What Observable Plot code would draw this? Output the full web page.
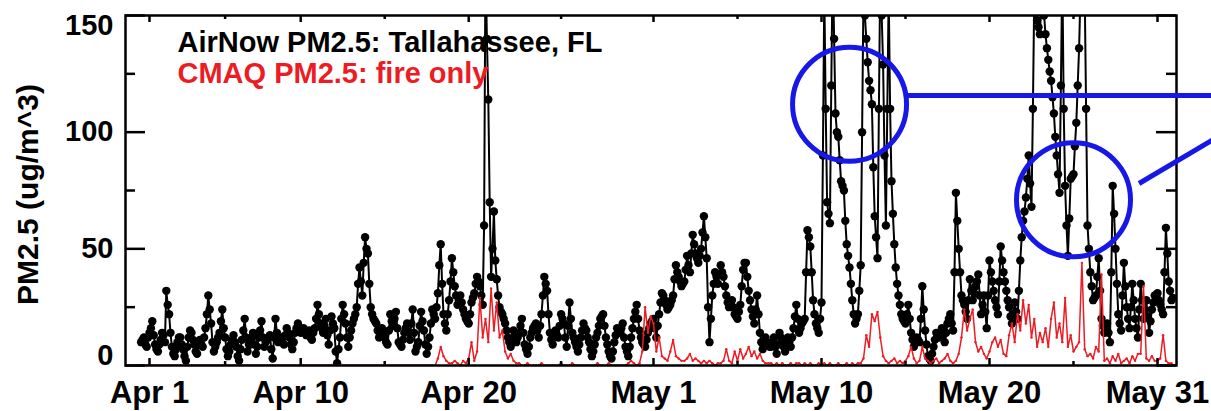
<!DOCTYPE html>
<html>
<head>
<meta charset="utf-8">
<script src="https://cdn.jsdelivr.net/npm/d3@7"></script>
<script src="https://cdn.jsdelivr.net/npm/@observablehq/plot@0.6"></script>
<style>
  html, body { margin: 0; padding: 0; background: #fff; }
  #chart svg { display: block; }
</style>
</head>
<body>
<div id="chart"></div>
<script>
// ---- tick labels (x = days since Apr 1, 00:00) ----
const xTicks = [0, 9, 19, 30, 40, 50, 60];
const xLabels = ["Apr 1", "Apr 10", "Apr 20", "May 1", "May 10", "May 20", "May 31"];
const xMinorTicks = [4.5, 14, 24.5, 35, 45, 55];
const yMajorTicks = [0, 50, 100, 150];
const yMinorTicks = [25, 75, 125];

const seriesStartDay = -0.5;     // first sample: Mar 31, 12:00
const airnowPerDay = 12;         // AirNow: one value every 2 hours
const cmaqPerDay = 6;            // CMAQ: one value every 4 hours

// ---- AirNow PM2.5, Tallahassee (ug/m^3) ----
const airnowApril = [
  10, 11, 12, 9, 8, 12,
  14, 16, 19, 13, 9, 7, 6, 9, 11, 14, 13, 10,
  32, 26, 22, 14, 8, 5, 4, 7, 10, 12, 12, 9,
  7, 4, 2, 8, 12, 15, 14, 11, 9, 6, 5, 9,
  11, 9, 8, 12, 16, 22, 30, 24, 18, 10, 6, 8,
  10, 12, 14, 19, 24, 16, 12, 7, 4, 6, 9, 11,
  13, 10, 8, 4, 2, 7, 11, 15, 20, 12, 6, 9,
  9, 12, 14, 9, 5, 8, 12, 15, 19, 12, 8, 10,
  11, 12, 13, 7, 3, 12, 20, 14, 10, 11, 12, 10,
  9, 13, 16, 14, 12, 9, 7, 10, 14, 16, 18, 15,
  14, 15, 16, 14, 13, 14, 15, 12, 11, 14, 16, 20,
  26, 22, 18, 16, 14, 17, 20, 13, 9, 15, 21, 18,
  16, 6, 1, 7, 12, 20, 26, 22, 18, 12, 8, 12,
  15, 18, 20, 22, 25, 35, 42, 36, 30, 44, 55, 50,
  48, 35, 25, 22, 20, 19, 18, 15, 12, 14, 16, 14,
  12, 10, 9, 15, 22, 19, 17, 20, 23, 16, 10, 9,
  8, 11, 14, 16, 18, 14, 11, 18, 24, 14, 6, 8,
  10, 17, 23, 19, 15, 9, 5, 8, 12, 18, 24, 22,
  20, 25, 31, 43, 52, 35, 22, 18, 15, 22, 28, 36,
  46, 40, 34, 30, 26, 28, 30, 27, 24, 22, 20, 19,
  18, 22, 27, 29, 31, 35, 38, 36, 34, 30, 26, 60,
  175, 140, 114, 70, 38, 50, 66, 45, 37, 30, 25, 23,
  22, 20, 18, 15, 12, 10, 8, 11, 15, 13, 10, 12,
  14, 17, 20, 14, 9, 7, 5, 8, 12, 14, 16, 17,
  18, 15, 12, 17, 22, 30, 38, 35, 32, 22, 14, 11,
  9, 12, 15, 13, 12, 17, 22, 20, 18, 12, 8, 17,
  27, 20, 14, 12, 10, 8, 6, 9, 12, 15, 18, 16,
  15, 12, 10, 7, 4, 6, 9, 12, 14, 17, 20, 21,
  22, 17, 12, 9, 6, 4, 3, 6, 10, 13, 16, 15,
  14, 16, 18, 12, 8, 6, 4, 8, 12, 16, 20, 23,
  26, 20, 15, 12, 10, 9, 8, 11, 14, 16, 18, 19
];
const airnowMay = [
  20, 16, 12, 17, 22, 27, 31, 30, 28, 26, 24, 25,
  26, 28, 30, 37, 43, 40, 38, 36, 34, 35, 36, 41,
  47, 43, 40, 48, 56, 52, 48, 46, 44, 47, 50, 57,
  64, 55, 46, 25, 10, 20, 30, 35, 40, 38, 35, 39,
  43, 40, 38, 34, 30, 27, 25, 26, 28, 25, 22, 21,
  20, 23, 26, 34, 41, 44, 44, 38, 32, 28, 24, 21,
  18, 24, 30, 22, 14, 10, 7, 10, 12, 10, 9, 8,
  8, 10, 12, 8, 5, 9, 14, 12, 10, 8, 6, 9,
  12, 10, 8, 12, 16, 21, 26, 20, 14, 16, 18, 19,
  20, 40, 58, 55, 51, 40, 28, 22, 18, 16, 14, 20,
  27, 90, 160, 110, 70, 65, 61, 120, 175, 140, 108, 100,
  98, 88, 79, 77, 75, 62, 52, 47, 42, 35, 28, 22,
  18, 20, 22, 32, 43, 100, 160, 150, 140, 130, 122, 118,
  112, 85, 64, 55, 46, 110, 170, 150, 129, 90, 60, 110,
  160, 110, 79, 65, 52, 42, 35, 30, 26, 22, 20, 19,
  18, 22, 26, 20, 14, 11, 8, 10, 12, 11, 10, 20,
  34, 24, 15, 9, 4, 3, 2, 5, 8, 11, 14, 13,
  12, 14, 16, 13, 10, 14, 18, 20, 22, 18, 15, 40,
  74, 62, 50, 40, 30, 28, 26, 23, 20, 28, 37, 32,
  28, 31, 34, 36, 39, 30, 22, 26, 30, 23, 16, 30,
  45, 40, 36, 32, 28, 25, 22, 36, 51, 45, 40, 36,
  32, 28, 25, 21, 18, 22, 27, 23, 20, 32, 45, 55,
  62, 66, 72, 80, 90, 78, 68, 110, 160, 155, 148, 145,
  142, 155, 165, 150, 142, 136, 131, 126, 122, 115, 108, 98,
  90, 82, 74, 120, 170, 110, 77, 60, 47, 63, 80, 81,
  82, 94, 104, 120, 136, 160, 175, 168, 160, 110, 60, 50,
  40, 34, 28, 29, 30, 38, 46, 32, 20, 17, 14, 16,
  18, 14, 10, 40, 77, 65, 50, 35, 22, 18, 15, 30,
  44, 34, 25, 20, 16, 25, 35, 28, 20, 16, 12, 24,
  35, 28, 20, 24, 28, 21, 14, 19, 24, 27, 30, 30,
  31, 28, 26, 24, 22, 40, 59, 48, 36, 32, 28, 29
];

// ---- CMAQ PM2.5, fire only (ug/m^3) ----
const cmaqApril = [
  0, 0, 0,
  0, 0, 0, 0, 0, 0,
  0, 0, 0, 0, 0, 0,
  0, 0, 0, 0, 0, 0,
  0, 0, 0, 0, 0, 0,
  0, 0, 0, 0, 0, 0,
  0, 0, 0, 0, 0, 0,
  0, 0, 0, 0, 0, 0,
  0, 0, 0, 0, 0, 0,
  0, 0, 0, 0, 0, 0,
  0, 0, 0, 0, 0, 0,
  0, 0, 0, 0, 0, 0,
  0, 0, 0, 0, 0, 0,
  0, 0, 0, 0, 0, 0,
  0, 0, 0, 0, 0, 0,
  0, 0, 0, 0, 0, 0,
  0, 0, 0, 0, 0, 0,
  0, 0, 0, 0, 0, 0,
  0, 3, 8, 4, 2, 1,
  1, 2, 1, 0, 2, 1,
  3, 10, 2, 6, 29, 12,
  20, 10, 33, 15, 27, 12,
  15, 6, 3, 5, 2, 1,
  1, 0, 0, 1, 0, 0,
  0, 0, 1, 0, 0, 0,
  0, 0, 0, 1, 0, 0,
  0, 1, 0, 0, 0, 0,
  0, 0, 0, 0, 1, 0,
  0, 0, 1, 0, 0, 0,
  0, 0, 0, 1, 2, 1,
  0, 1, 6, 25, 14, 21
];
const cmaqMay = [
  18, 6, 12, 4, 3, 2,
  6, 11, 4, 3, 2, 2,
  3, 5, 2, 3, 2, 1,
  2, 1, 2, 1, 0, 1,
  1, 2, 7, 2, 1, 6,
  2, 7, 3, 5, 8, 4,
  6, 3, 5, 2, 1, 1,
  1, 0, 1, 0, 1, 0,
  0, 1, 0, 1, 1, 0,
  1, 0, 1, 0, 0, 1,
  0, 1, 0, 1, 0, 0,
  1, 0, 0, 1, 0, 1,
  0, 1, 1, 3, 13, 8,
  22, 19, 23, 12, 4, 2,
  1, 2, 3, 1, 2, 1,
  2, 4, 8, 3, 1, 2,
  8, 3, 2, 1, 2, 3,
  1, 2, 3, 5, 2, 1,
  2, 5, 12, 24, 15, 20,
  24, 10, 6, 8, 5, 3,
  6, 10, 12, 8, 11, 5,
  4, 13, 18, 10, 22, 15,
  28, 18, 26, 12, 20, 8,
  14, 10, 16, 8, 20, 27,
  12, 18, 10, 29, 8, 13,
  6, 8, 10, 44, 7, 4,
  5, 3, 8, 6, 39, 2,
  3, 1, 4, 2, 5, 1,
  2, 3, 1, 4, 2, 5,
  5, 34, 3, 2, 4, 2,
  2, 3, 13, 2, 1, 1
];

// ---- annotations (blue call-out circles and leader lines) ----
const callouts = [{day: 41.67, pm: 112}, {day: 55.0, pm: 71}];
const leaders = [
  {d1: 45.12, v1: 115.7, d2: 63.6, v2: 115.7},
  {d1: 58.9, v1: 78, d2: 63.6, v2: 98}
];

const legendBlack = "AirNow PM2.5: Tallahassee, FL";
const legendRed = "CMAQ PM2.5: fire only";
const yTitle = "PM2.5 (ug/m^3)";

// ---- build tables ----
const toRows = (vals, perDay) => vals.map((v, i) => ({t: seriesStartDay + i / perDay, v}));
const airnow = toRows([...airnowApril, ...airnowMay], airnowPerDay);
const cmaq = toRows([...cmaqApril, ...cmaqMay], cmaqPerDay);

const W = 1211, H = 411, mL = 125, mR = 35, mT = 15, mB = 46;
const fw = W - mL - mR, fh = H - mT - mB;
const RED = "#ec1c24", BLUE = "#1717e8";
const bold = {fontWeight: "bold"};

const chart = Plot.plot({
  width: W, height: H,
  marginLeft: mL, marginRight: mR, marginTop: mT, marginBottom: mB,
  style: {fontFamily: "'Liberation Sans', Arial, Helvetica, sans-serif", background: "#fff", overflow: "hidden"},
  x: {type: "linear", domain: [(mL - 149) / 16.8, (W - mR - 149) / 16.8], axis: null},
  y: {domain: [0, 150], axis: null},
  marks: [
    // AirNow observations
    Plot.line(airnow, {x: "t", y: "v", stroke: "black", strokeWidth: 2, clip: true}),
    Plot.dot(airnow, {x: "t", y: "v", r: 4.2, fill: "black", stroke: "none", clip: true}),
    // CMAQ fire only
    Plot.line(cmaq, {x: "t", y: "v", stroke: RED, strokeWidth: 1.5, clip: true}),
    Plot.dot(cmaq, {x: "t", y: "v", r: 1.2, fill: RED, stroke: "none", clip: true}),
    // frame and inward ticks
    Plot.frame({stroke: "black", strokeWidth: 2.5}),
    Plot.tickY(yMajorTicks, {y: d => d, insetRight: fw - 20, stroke: "black", strokeWidth: 2.5}),
    Plot.tickY(yMinorTicks, {y: d => d, insetRight: fw - 10, stroke: "black", strokeWidth: 2.5}),
    Plot.tickY(yMajorTicks, {y: d => d, insetLeft: fw - 20, stroke: "black", strokeWidth: 2.5}),
    Plot.tickY(yMinorTicks, {y: d => d, insetLeft: fw - 10, stroke: "black", strokeWidth: 2.5}),
    Plot.tickX(xTicks, {x: d => d, insetTop: fh - 7, stroke: "black", strokeWidth: 2.5}),
    Plot.tickX(xMinorTicks, {x: d => d, insetTop: fh - 4, stroke: "black", strokeWidth: 2.5}),
    Plot.tickX(xTicks, {x: d => d, insetBottom: fh - 7, stroke: "black", strokeWidth: 2.5}),
    Plot.tickX(xMinorTicks, {x: d => d, insetBottom: fh - 4, stroke: "black", strokeWidth: 2.5}),
    // axis labels
    Plot.axisX(xTicks, {anchor: "bottom", tickSize: 0, tickPadding: 15, label: null,
      tickFormat: d => xLabels[xTicks.indexOf(d)], fontSize: 31, fill: "black", ...bold}),
    Plot.axisY([50, 100], {anchor: "left", tickSize: 0, tickPadding: 12, label: null, fontSize: 29, fill: "black", ...bold}),
    Plot.axisY([150], {anchor: "left", tickSize: 0, tickPadding: 12, label: null, fontSize: 29, dy: 10, fill: "black", ...bold}),
    Plot.axisY([0], {anchor: "left", tickSize: 0, tickPadding: 12, label: null, fontSize: 29, dy: -10, fill: "black", ...bold}),
    Plot.text([yTitle], {text: d => d, frameAnchor: "left", rotate: -90, dx: -97, dy: 4,
      fontSize: 30, textAnchor: "middle", lineAnchor: "middle", fill: "black", ...bold}),
    // legend
    Plot.text([legendBlack], {text: d => d, frameAnchor: "top-left", dx: 52, dy: 36,
      textAnchor: "start", lineAnchor: "bottom", fontSize: 29, fill: "black", ...bold}),
    Plot.text([legendRed], {text: d => d, frameAnchor: "top-left", dx: 52, dy: 67,
      textAnchor: "start", lineAnchor: "bottom", fontSize: 29, fill: RED, ...bold}),
    // call-outs
    Plot.dot(callouts, {x: "day", y: "pm", r: 57, fill: "none", stroke: BLUE, strokeWidth: 5}),
    Plot.link(leaders, {x1: "d1", y1: "v1", x2: "d2", y2: "v2", stroke: BLUE, strokeWidth: 5})
  ]
});
document.getElementById("chart").appendChild(chart);
</script>
</body>
</html>
